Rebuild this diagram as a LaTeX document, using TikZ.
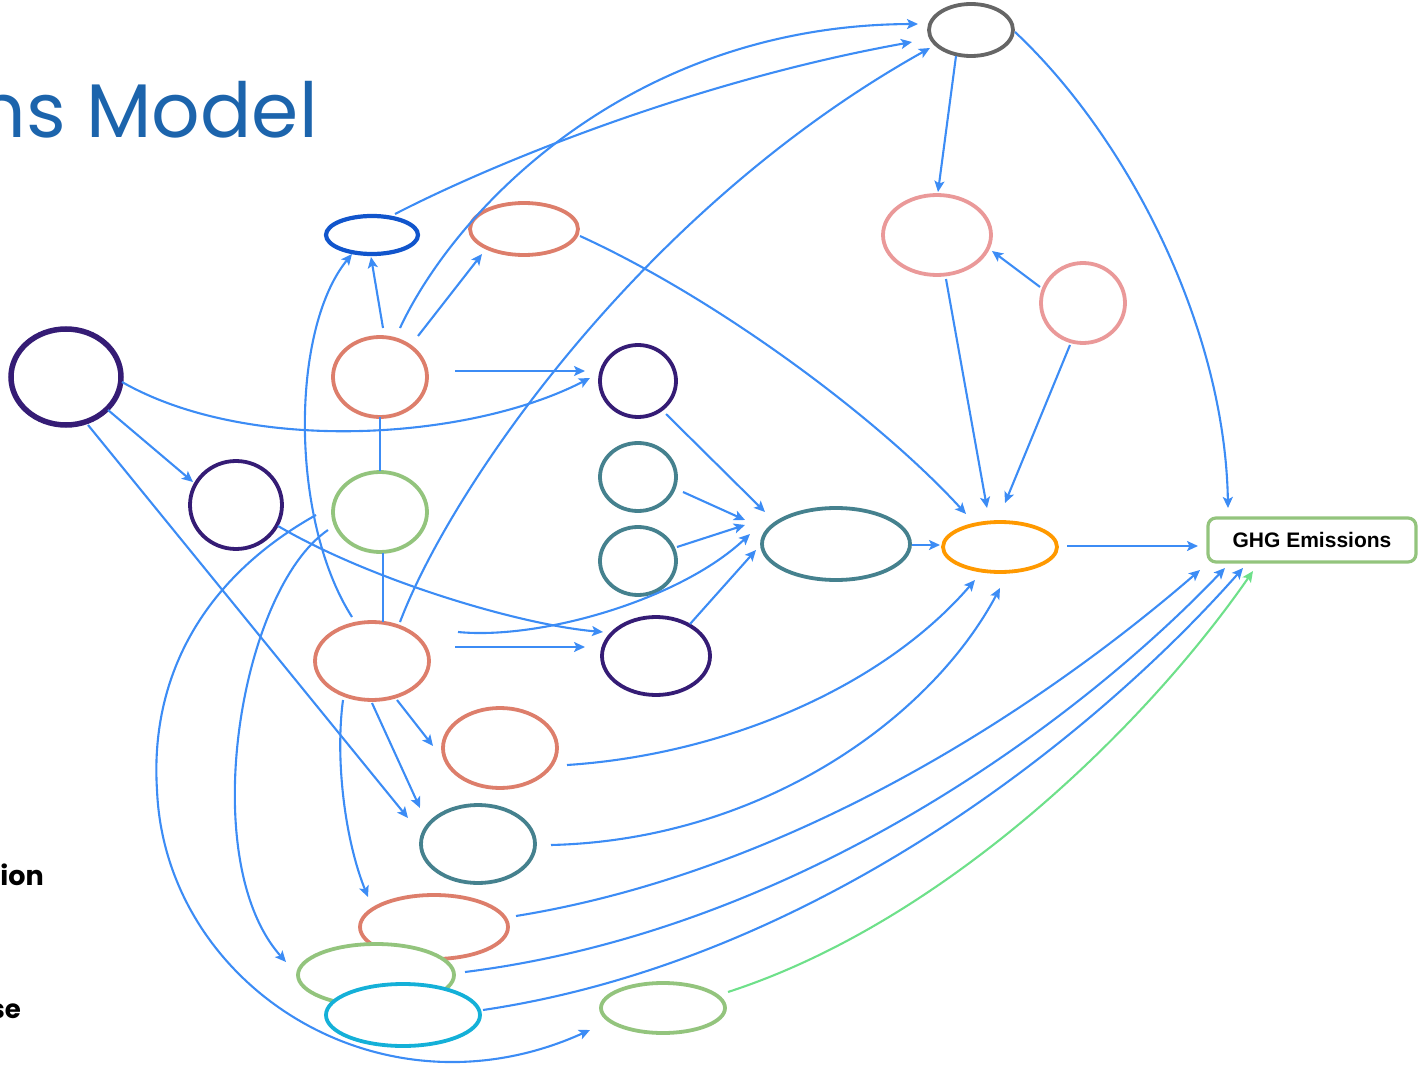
\documentclass[tikz,border=0pt]{standalone}
\usepackage{fontspec}
\setmainfont{Poppins}
\newfontfamily\arialf{Liberation Sans}
\usetikzlibrary{shapes.geometric,arrows.meta,calc}
\definecolor{cblue}{RGB}{60,140,245}
\definecolor{cgreenl}{RGB}{110,224,138}
\definecolor{cgray}{RGB}{102,102,102}
\definecolor{cdblue}{RGB}{17,85,204}
\definecolor{csalmon}{RGB}{221,126,107}
\definecolor{cpink}{RGB}{234,153,153}
\definecolor{cpurple}{RGB}{53,28,117}
\definecolor{cgreen}{RGB}{147,196,125}
\definecolor{cteal}{RGB}{69,129,142}
\definecolor{corange}{RGB}{255,153,0}
\definecolor{ccyan}{RGB}{20,176,216}
\definecolor{ctitle}{RGB}{28,100,172}
\tikzset{
  el/.style={ellipse, draw, fill=white, inner sep=0pt, line width=3.8pt},
  conn/.style={draw=cblue, line width=2.1pt, -{Stealth[length=11pt,width=10pt,inset=2.5pt]}},
  plain/.style={draw=cblue, line width=2.1pt},
}
\begin{document}
\begin{tikzpicture}[x=1pt,y=-1pt]
\useasboundingbox (0,0) rectangle (1422,1067);
% title and side texts
\node[anchor=base east, inner sep=0pt, text=ctitle, font=\fontsize{76}{80}\selectfont] (title) at (318,138) {ns Model};
\node[anchor=base east, inner sep=0pt, font=\bfseries\fontsize{27}{30}\selectfont] (tion) at (44,885) {ion};
\node[anchor=base east, inner sep=0pt, font=\bfseries\fontsize{26}{30}\selectfont] (tse) at (21,1018) {se};
% nodes
\node[el, draw=cgray, minimum width=84pt, minimum height=52pt] (gray) at (971,30) {};
\node[el, draw=cdblue, line width=4.2pt, minimum width=92pt, minimum height=38pt] (blue) at (372,235) {};
\node[el, draw=csalmon, minimum width=108pt, minimum height=52pt] (salT) at (524,229) {};
\node[el, draw=cpink, minimum width=108pt, minimum height=80pt] (pinkB) at (937,235) {};
\node[el, draw=cpink, minimum width=84pt, minimum height=80pt] (pinkS) at (1083,303) {};
\node[el, draw=cpurple, line width=5.5pt, minimum width=110pt, minimum height=96pt] (purL) at (66,377) {};
\node[el, draw=csalmon, minimum width=94pt, minimum height=80pt] (salM) at (380,377) {};
\node[el, draw=cpurple, minimum width=76pt, minimum height=72pt] (purM) at (638,381) {};
\node[el, draw=cpurple, minimum width=92pt, minimum height=88pt] (purS) at (236,505) {};
\node[el, draw=cgreen, minimum width=94pt, minimum height=80pt] (grnM) at (380,512) {};
\node[el, draw=cteal, minimum width=76pt, minimum height=68pt] (teal1) at (638,477) {};
\node[el, draw=cteal, minimum width=76pt, minimum height=68pt] (teal2) at (638,561) {};
\node[el, draw=cteal, minimum width=148pt, minimum height=72pt] (tealB) at (836,544) {};
\node[el, draw=corange, minimum width=114pt, minimum height=50pt] (orange) at (1000,547) {};
\node[draw=cgreen, line width=3.2pt, rounded corners=8pt, fill=white, minimum width=208pt, minimum height=44pt, inner sep=0pt, font=\arialf\bfseries\fontsize{21}{24}\selectfont] (ghg) at (1312,540) {GHG Emissions};
\node[el, draw=csalmon, minimum width=114pt, minimum height=78pt] (salB) at (372,661) {};
\node[el, draw=cpurple, minimum width=108pt, minimum height=78pt] (purB) at (656,656) {};
\node[el, draw=csalmon, minimum width=114pt, minimum height=80pt] (salL) at (500,748) {};
\node[el, draw=cteal, minimum width=114pt, minimum height=78pt] (tealL) at (478,844) {};
\node[el, draw=csalmon, minimum width=148pt, minimum height=64pt] (salBot) at (434,927) {};
\node[el, draw=cgreen, minimum width=156pt, minimum height=62pt] (grnBot) at (376,975) {};
\node[el, draw=ccyan, minimum width=154pt, minimum height=62pt] (cyan) at (403,1015) {};
\node[el, draw=cgreen, minimum width=124pt, minimum height=50pt] (grnS) at (663,1008) {};
% connectors
\draw[conn] ($(blue)+(23,-21)$) .. controls (500,160) and (700,80) .. ($(gray)+(-59,12)$);
\draw[conn] ($(salM)+(20,-49)$) .. controls (455,210) and (630,25) .. ($(gray)+(-53,-6)$);
\draw[conn] ($(salB)+(28,-39)$) .. controls (450,490) and (640,210) .. ($(gray)+(-41,18)$);
\draw[conn] ($(gray)+(-15,26)$) -- ($(pinkB)+(1,-43)$);
\draw[conn] ($(gray)+(44,2)$) .. controls (1130,140) and (1225,330) .. ($(ghg)+(-84,-32)$);
\draw[conn] ($(pinkS)+(-43,-16)$) -- ($(pinkB)+(55,16)$);
\draw[conn] ($(pinkB)+(9,44)$) -- ($(orange)+(-13,-39)$);
\draw[conn] ($(pinkS)+(-13,42)$) -- ($(orange)+(5,-44)$);
\draw[conn] ($(salT)+(56,7)$) .. controls (720,300) and (880,420) .. ($(orange)+(-34,-33)$);
\draw[conn] ($(salM)+(3,-49)$) -- ($(blue)+(-1,22)$);
\draw[conn] ($(salM)+(38,-41)$) -- ($(salT)+(-42,25)$);
\draw[conn] ($(salM)+(75,-6)$) -- ($(purM)+(-53,-10)$);
\draw[plain] ($(salM)+(0,40)$) -- ($(grnM)+(0,-41)$);
\draw[plain] ($(grnM)+(3,41)$) -- ($(salB)+(11,-39)$);
\draw[conn] ($(purL)+(56,5)$) .. controls (250,455) and (470,440) .. ($(purM)+(-48,-3)$);
\draw[conn] ($(purL)+(42,33)$) -- ($(purS)+(-43,-23)$);
\draw[conn] ($(purL)+(22,48)$) -- ($(tealL)+(-70,-26)$);
\draw[conn] ($(purS)+(42,21)$) .. controls (370,580) and (520,625) .. ($(purB)+(-53,-24)$);
\draw[conn] ($(salB)+(83,-14)$) -- ($(purB)+(-71,-9)$);
\draw[conn] ($(salB)+(86,-29)$) .. controls (540,640) and (680,600) .. ($(tealB)+(-86,-10)$);
\draw[conn] ($(purM)+(28,33)$) -- ($(tealB)+(-71,-32)$);
\draw[conn] ($(teal1)+(45,15)$) -- ($(tealB)+(-91,-24)$);
\draw[conn] ($(teal2)+(39,-14)$) -- ($(tealB)+(-91,-19)$);
\draw[conn] ($(purB)+(34,-32)$) -- ($(tealB)+(-80,6)$);
\draw[conn] ($(tealB)+(76,1)$) -- ($(orange)+(-60,-2)$);
\draw[conn] ($(orange)+(67,-1)$) -- ($(ghg)+(-114,6)$);
\draw[conn] ($(salL)+(67,17)$) .. controls (720,755) and (880,690) .. ($(orange)+(-25,33)$);
\draw[conn] ($(tealL)+(73,1)$) .. controls (760,840) and (930,720) .. ($(orange)+(0,41)$);
\draw[conn] ($(salBot)+(82,-11)$) .. controls (800,870) and (1050,700) .. ($(ghg)+(-112,30)$);
\draw[conn] ($(grnBot)+(89,-3)$) .. controls (800,930) and (1080,720) .. ($(ghg)+(-87,28)$);
\draw[conn] ($(cyan)+(80,-5)$) .. controls (820,960) and (1100,730) .. ($(ghg)+(-69,28)$);
\draw[conn, draw=cgreenl, -{Stealth[length=11pt,width=10pt,inset=2.5pt,fill=cgreenl]}] ($(grnS)+(65,-16)$) .. controls (950,920) and (1150,720) .. ($(ghg)+(-59,31)$);
\draw[conn] ($(salB)+(-20,-44)$) .. controls (290,520) and (290,330) .. ($(blue)+(-20,19)$);
\draw[conn] ($(salB)+(25,39)$) -- ($(salL)+(-67,-2)$);
\draw[conn] ($(salB)+(0,42)$) -- ($(tealL)+(-58,-36)$);
\draw[conn] ($(salB)+(-29,39)$) .. controls (335,760) and (345,840) .. ($(salBot)+(-66,-30)$);
\draw[conn] ($(grnM)+(-52,18)$) .. controls (240,590) and (195,860) .. ($(grnBot)+(-90,-13)$);
\coordinate (aiMid) at (157,790);
\draw[conn] ($(grnM)+(-64,3)$) .. controls (200,580) and (150,680) .. (aiMid) .. controls (165,985) and (380,1125) .. ($(grnS)+(-73,22)$);
\end{tikzpicture}
\end{document}
